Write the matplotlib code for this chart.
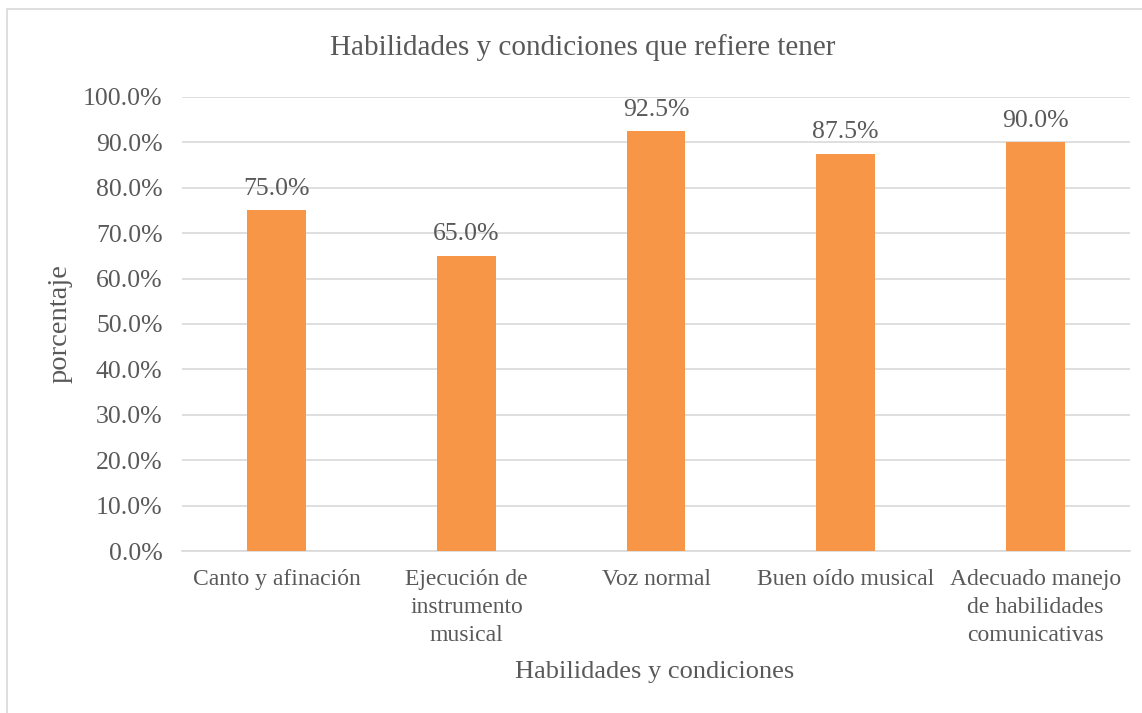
import matplotlib.pyplot as plt
from matplotlib.ticker import PercentFormatter
from matplotlib.patches import Rectangle

# data
categorias = ['Canto y afinación', 'Ejecución de\ninstrumento\nmusical', 'Voz normal',
              'Buen oído musical', 'Adecuado manejo\nde habilidades\ncomunicativas']
porcentajes = [75.0, 65.0, 92.5, 87.5, 90.0]

gris = '#595959'
naranja = '#F79646'
plt.rcParams['font.family'] = ['Liberation Serif', 'DejaVu Serif']

fig = plt.figure(figsize=(11.42, 7.13), dpi=100)
ax = fig.add_axes([182 / 1142, 1 - 551 / 713, 948 / 1142, 454 / 713])

# outer chart border
fig.patches.append(Rectangle((7 / 1142, -0.02), 1.2, 1 - 9 / 713 + 0.02, transform=fig.transFigure,
                             fill=False, edgecolor='#D9D9D9', linewidth=1.2))

x = range(len(categorias))
bars = ax.bar(x, porcentajes, width=0.31, color=naranja, zorder=3)
for b, v in zip(bars, porcentajes):
    ax.annotate(f'{v:.1f}%', (b.get_x() + b.get_width() / 2, v), xytext=(0, 7.5),
                textcoords='offset points', ha='center', va='bottom', fontsize=18.5, color=gris)

ax.set_xlim(-0.5, len(categorias) - 0.5)
ax.set_ylim(0, 100)
ax.set_yticks(range(0, 101, 10))
ax.yaxis.set_major_formatter(PercentFormatter(decimals=1))
ax.grid(axis='y', color='#D9D9D9', linewidth=1.2, zorder=0)
ax.set_xticks(list(x))
ax.set_xticklabels(categorias, fontsize=17, color=gris, linespacing=1.45)
ax.tick_params(axis='y', labelsize=18.5, labelcolor=gris, length=0, pad=14)
ax.tick_params(axis='x', length=0, pad=13)
for s in ['top', 'right', 'left']:
    ax.spines[s].set_visible(False)
ax.spines['bottom'].set_color('#D9D9D9')
ax.spines['bottom'].set_linewidth(1.2)

fig.text(60 / 1142, 1 - 324 / 713, 'porcentaje', rotation=90, ha='center', va='center',
         fontsize=20.5, color=gris)
fig.text(655 / 1142, 1 - 672 / 713, 'Habilidades y condiciones', ha='center', va='center',
         fontsize=19, color=gris)
fig.text(583 / 1142, 1 - 48 / 713, 'Habilidades y condiciones que refiere tener', ha='center',
         va='center', fontsize=21, color=gris)

fig.savefig('out.png', dpi=100)
